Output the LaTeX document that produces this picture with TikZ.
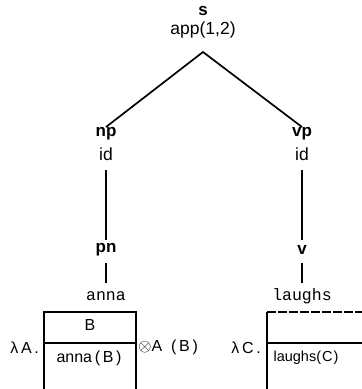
\documentclass[tikz,border=0pt]{standalone}
\usepackage{fontspec}
\setmainfont{Liberation Sans}
\setmonofont{Liberation Mono}
\begin{document}
\begin{tikzpicture}[x=1pt,y=-1pt,
  lbl/.style={font=\fontsize{17.5}{18}\selectfont, inner sep=0pt},
  cat/.style={font=\fontsize{17}{18}\selectfont\bfseries, inner sep=0pt},
  word/.style={font=\fontsize{16.5}{17}\selectfont\ttfamily, inner sep=0pt},
  boxtxt/.style={font=\fontsize{16}{17}\selectfont, inner sep=0pt},
  edge/.style={line width=1.7pt},
  boxline/.style={line width=1.4pt}]
\useasboundingbox (0,0) rectangle (362,389);
\clip (0,0) rectangle (362,389);
% root
\node[cat] (s) at (203,11) {s};
\node[lbl] (app) at (203,30) {app(1,2)};
\coordinate (apex) at (203,52);
% left branch
\node[cat, anchor=north] (np) at (106,127) {np};
\node[lbl] (id1) at (106,154) {id};
\node[cat] (pn) at (106,250) {pn};
\node[word] (anna) at (106,296) {anna};
% right branch
\node[cat, anchor=north] (vp) at (302,127) {vp};
\node[lbl] (id2) at (302,154) {id};
\node[cat] (v) at (302,250) {v};
\node[word] (laughs) at (302,296) {laughs};
% edges
\draw[edge] (np.north) -- (apex) -- (vp.north);
\draw[edge, shorten <=16pt, shorten >=10pt] (id1.center) -- (pn.center);
\draw[edge, shorten <=16pt, shorten >=10pt] (id2.center) -- (v.center);
\draw[edge, shorten <=13pt, shorten >=13pt] (pn.center) -- (anna.center);
\draw[edge, shorten <=13pt, shorten >=13pt] (v.center) -- (laughs.center);
% left box
\coordinate (lb1) at (44,400);
\coordinate (lb2) at (44,312);
\coordinate (lb3) at (136,312);
\coordinate (lb4) at (136,400);
\coordinate (ls1) at (44,343);
\coordinate (ls2) at (136,343);
\draw[boxline] (lb1) -- (lb2) -- (lb3) -- (lb4);
\draw[boxline] (ls1) -- (ls2);
\node[boxtxt] (B) at (90,325) {B};
\node[boxtxt] (annaB) at (89,358) {anna\,(\,B\,)};
\node[boxtxt, anchor=east] (lamA) at (39,348) {λ\,A\,.};
\node[boxtxt, anchor=west] (otA) at (138,347) {$\otimes$A\ \ (\,B\,)};
% right box
\coordinate (rb1) at (267,400);
\coordinate (rb2) at (267,312);
\coordinate (rb3) at (370,312);
\coordinate (rs1) at (267,343);
\coordinate (rs2) at (370,343);
\draw[boxline] (rb1) -- (rb2);
\draw[boxline, dash pattern=on 9pt off 2pt] (rb2) -- (rb3);
\draw[boxline] (rs1) -- (rs2);
\node[boxtxt, anchor=east] (lamC) at (261,348) {λ\,C\,.};
\node[boxtxt, font=\fontsize{14.5}{15}\selectfont] (laughsC) at (306,358) {laughs(\kern1pt C\kern1pt)};
\end{tikzpicture}
\end{document}
